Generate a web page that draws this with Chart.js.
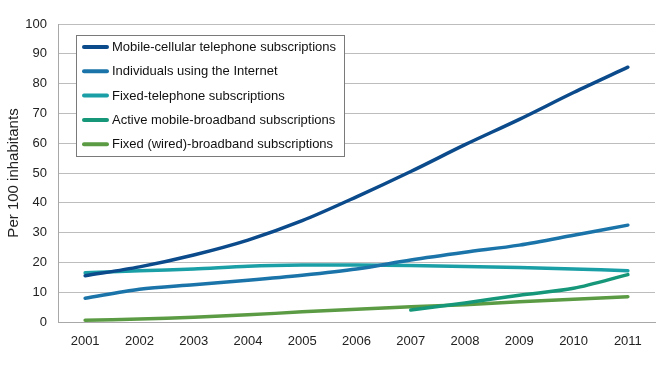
<!DOCTYPE html>
<html lang="en">
<head>
<meta charset="utf-8" />
<title>Per 100 inhabitants</title>
<style>
  html, body { margin: 0; padding: 0; background: #fff; }
  #wrap { width: 660px; height: 365px; }
</style>
</head>
<body>
<div id="wrap"><canvas id="ictChart" width="660" height="365"></canvas></div>
<script src="https://cdn.jsdelivr.net/npm/chart.js"></script>
<script>
  // years on the x axis
  const years = ['2001', '2002', '2003', '2004', '2005', '2006', '2007', '2008', '2009', '2010', '2011'];

  // per 100 inhabitants
  const mobileCellular = [15.5, 18.5, 22.5, 27.5, 34, 42, 50.5, 59.5, 68, 77, 85.5];
  const internetUsers  = [8, 11, 12.5, 14, 15.7, 17.8, 20.8, 23.4, 25.8, 29.1, 32.5];
  const fixedTelephone = [16.5, 17.2, 17.8, 18.7, 19.1, 19.1, 19, 18.6, 18.3, 17.8, 17.2];
  const mobileBroadband = [null, null, null, null, null, null, 4, 6.4, 9, 11.3, 15.9];
  const fixedBroadband = [0.6, 1, 1.6, 2.4, 3.4, 4.3, 5.1, 5.8, 6.8, 7.6, 8.5];

  const yTicks = [0, 10, 20, 30, 40, 50, 60, 70, 80, 90, 100];

  const FONT = '"Liberation Sans", Arial, sans-serif';

  // legend drawn in a box inside the plot
  const boxLegend = {
    id: 'boxLegend',
    afterDraw(chart) {
      const c = chart.ctx;
      c.save();
      c.fillStyle = '#fff';
      c.fillRect(76.5, 35.5, 268, 121);
      c.strokeStyle = '#7a7a7a';
      c.lineWidth = 1;
      c.strokeRect(76.5, 35.5, 268, 121);
      c.font = '13px ' + FONT;
      c.textBaseline = 'middle';
      chart.data.datasets.forEach(function (ds, i) {
        const y = 47 + i * 24.3;
        c.strokeStyle = ds.borderColor;
        c.lineWidth = 4;
        c.lineCap = 'round';
        c.beginPath();
        c.moveTo(84, y);
        c.lineTo(107, y);
        c.stroke();
        c.fillStyle = '#111';
        c.fillText(ds.label, 112, y + 0.5);
      });
      c.restore();
    }
  };

  function line(label, data, color) {
    return {
      label: label,
      data: data,
      borderColor: color,
      backgroundColor: color,
      borderWidth: 3.5,
      borderCapStyle: 'round',
      pointRadius: 0,
      tension: 0.3,
      fill: false,
      spanGaps: false
    };
  }

  new Chart(document.getElementById('ictChart'), {
    type: 'line',
    data: {
      labels: years,
      datasets: [
        line('Mobile-cellular telephone subscriptions', mobileCellular, '#0b4a8b'),
        line('Individuals using the Internet', internetUsers, '#1b74a9'),
        line('Fixed-telephone subscriptions', fixedTelephone, '#1a9fa6'),
        line('Active mobile-broadband subscriptions', mobileBroadband, '#16977a'),
        line('Fixed (wired)-broadband subscriptions', fixedBroadband, '#5b9b43')
      ]
    },
    options: {
      responsive: false,
      animation: false,
      layout: { padding: { top: 24, right: 5, left: 0, bottom: 0 } },
      plugins: {
        legend: { display: false },
        tooltip: { enabled: false }
      },
      scales: {
        x: {
          offset: true,
          grid: { display: false, drawTicks: false },
          border: { color: '#a8a8a8', width: 1 },
          ticks: { color: '#222', font: { family: FONT, size: 13 }, padding: 12, maxRotation: 0 },
          afterFit(s) { s.height = 43; }
        },
        y: {
          min: 0,
          max: 100,
          afterBuildTicks(s) { s.ticks = yTicks.map(v => ({ value: v })); },
          grid: { color: '#bdbdbd', lineWidth: 1, drawTicks: false },
          border: { color: '#a8a8a8', width: 1 },
          ticks: { color: '#222', font: { family: FONT, size: 13 }, padding: 11 },
          title: {
            display: true,
            text: 'Per 100 inhabitants',
            color: '#222',
            font: { family: FONT, size: 15 },
            padding: { top: 5, bottom: 0 }
          },
          afterFit(s) { s.width = 58; }
        }
      }
    },
    plugins: [boxLegend]
  });
</script>
</body>
</html>
